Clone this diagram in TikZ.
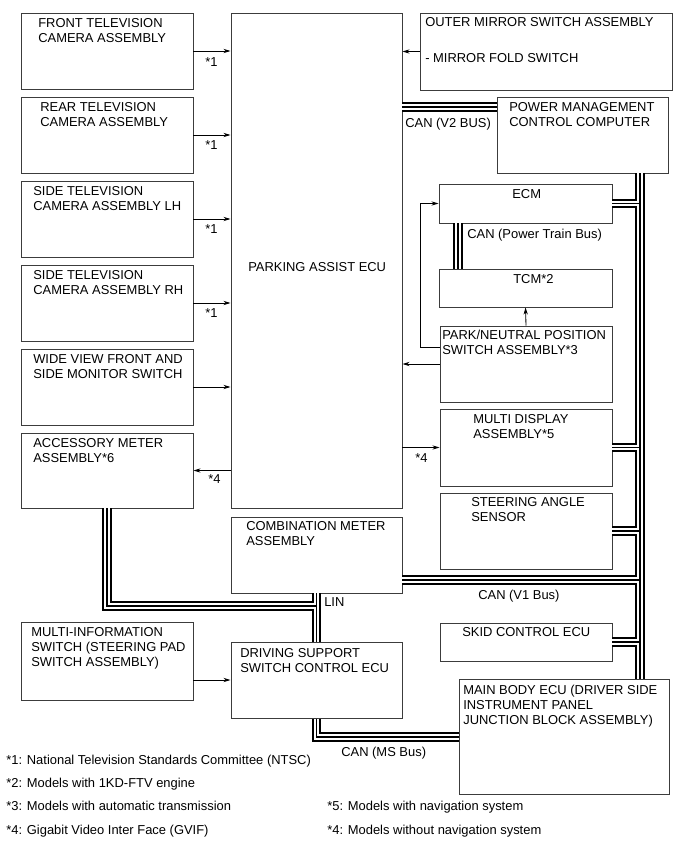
\documentclass[tikz,border=0pt]{standalone}
\usepackage{fontspec}
\setmainfont{Liberation Sans}
\usepackage{tikz}
\usetikzlibrary{arrows.meta, positioning, calc, fit}
\definecolor{boxgray}{RGB}{60,60,60}
\tikzset{
  unit/.style={draw=boxgray, line width=0.7pt, inner sep=0pt, fit={#1}},
  txt/.style={anchor=north west, inner sep=0pt, align=left,
    font=\fontsize{9.2}{10.6}\selectfont},
  arrow/.style={-{Stealth[length=5pt, width=3pt]}, line width=0.6pt}
}
\begin{document}
\begin{tikzpicture}[x=0.025cm, y=-0.025cm]
  \useasboundingbox (0,0) rectangle (691,855);

  % Left column
  \node[unit={(21,13) (193,89)}] (frontcam) {};
  \node[unit={(21,97) (193,173)}] (rearcam) {};
  \node[unit={(21,181) (193,257)}] (sidelh) {};
  \node[unit={(21,265) (193,341)}] (siderh) {};
  \node[unit={(21,349) (193,425)}] (wideview) {};
  \node[unit={(21,433) (193,508)}] (accmeter) {};
  \node[unit={(21,622) (193,700)}] (multiinfo) {};
  \node[txt] (frontcam-t) at (38,18) {FRONT TELEVISION\\CAMERA ASSEMBLY};
  \node[txt] (rearcam-t) at (40,102) {REAR TELEVISION\\CAMERA ASSEMBLY};
  \node[txt] (sidelh-t) at (33,186) {SIDE TELEVISION\\CAMERA ASSEMBLY LH};
  \node[txt] (siderh-t) at (33,270) {SIDE TELEVISION\\CAMERA ASSEMBLY RH};
  \node[txt] (wideview-t) at (33,354) {WIDE VIEW FRONT AND\\SIDE MONITOR SWITCH};
  \node[txt] (accmeter-t) at (33,438) {ACCESSORY METER\\ASSEMBLY*6};
  \node[txt] (multiinfo-t) at (31,627) {MULTI-INFORMATION\\SWITCH (STEERING PAD\\SWITCH ASSEMBLY)};

  % Middle column
  \node[unit={(231,13) (402,508)}] (parkecu) {};
  \node[unit={(231,517) (402,593)}] (combmeter) {};
  \node[unit={(231,642) (402,718)}] (drvsw) {};
  \node[txt] (parkecu-t) at (248,262) {PARKING ASSIST ECU};
  \node[txt] (combmeter-t) at (246,521) {COMBINATION METER\\ASSEMBLY};
  \node[txt] (drvsw-t) at (240,648) {DRIVING SUPPORT\\SWITCH CONTROL ECU};

  % Right column
  \node[unit={(420,13) (672,90)}] (mirror) {};
  \node[unit={(497,97) (668,173)}] (pwrmgmt) {};
  \node[unit={(439,184) (612,223)}] (ecm) {};
  \node[unit={(439,269) (612,307)}] (tcm) {};
  \node[unit={(440,326) (612,402)}] (pnsw) {};
  \node[unit={(440,409) (612,486)}] (multidisp) {};
  \node[unit={(440,493) (612,569)}] (steer) {};
  \node[unit={(440,623) (612,661)}] (skid) {};
  \node[unit={(459,679) (669,794)}] (mainbody) {};
  \node[txt] (mirror-t) at (425,17) {OUTER MIRROR SWITCH ASSEMBLY\\[15pt]- MIRROR FOLD SWITCH};
  \node[txt] (pwrmgmt-t) at (509,102) {POWER MANAGEMENT\\CONTROL COMPUTER};
  \node[txt] (ecm-t) at (512,189) {ECM};
  \node[txt] (tcm-t) at (513,274) {TCM*2};
  \node[txt] (pnsw-t) at (442,330) {PARK/NEUTRAL POSITION\\SWITCH ASSEMBLY*3};
  \node[txt] (multidisp-t) at (473,414) {MULTI DISPLAY\\ASSEMBLY*5};
  \node[txt] (steer-t) at (471,497) {STEERING ANGLE\\SENSOR};
  \node[txt] (skid-t) at (462,627) {SKID CONTROL ECU};
  \node[txt] (mainbody-t) at (463,685) {MAIN BODY ECU (DRIVER SIDE\\INSTRUMENT PANEL\\JUNCTION BLOCK ASSEMBLY)};

  % Signal arrows
  \draw[arrow] (frontcam.east) -- (frontcam.east -| parkecu.west);
  \draw[arrow] (rearcam.east) -- (rearcam.east -| parkecu.west);
  \draw[arrow] (sidelh.east) -- (sidelh.east -| parkecu.west);
  \draw[arrow] (siderh.east) -- (siderh.east -| parkecu.west);
  \draw[arrow] (wideview.east) -- (wideview.east -| parkecu.west);
  \draw[arrow] (accmeter.east -| parkecu.west) -- (accmeter.east);
  \draw[arrow] (mirror.west) -- (mirror.west -| parkecu.east);
  \draw[arrow] (pnsw.west) -- (pnsw.west -| parkecu.east);
  \draw[arrow] (multidisp.west -| parkecu.east) -- (multidisp.west);
  \draw[arrow] (pnsw.north) -- (tcm.south);
  \draw[arrow] ($(pnsw.west)+(0,-17)$) -| ($(ecm.west)+(-18,0)$) -- (ecm.west);
  \draw[arrow] (drvsw.west -| multiinfo.east) -- (drvsw.west);

  \node[txt] (n1a) at (205,57) {*1};
  \node[txt] (n1b) at (205,140) {*1};
  \node[txt] (n1c) at (205,224) {*1};
  \node[txt] (n1d) at (205,308) {*1};
  \node[txt] (n4a) at (208,474) {*4};
  \node[txt] (n4b) at (415,453) {*4};

  % Bus lines
  \coordinate (trunkx) at (640,0);
  \coordinate (v2y) at (0,107);
  \coordinate (v1y) at (0,580);
  \coordinate (ptx) at (458,0);
  \coordinate (accy) at (0,606);
  \coordinate (msy) at (0,737);
  \foreach \w/\c in {7pt/black, 4.2pt/white, 1.2pt/black}{
    \begin{scope}[line width=\w, draw=\c]
      \draw (parkecu.east |- v2y) -- (pwrmgmt.west |- v2y);
      \draw (pwrmgmt.south -| trunkx) -- (mainbody.north -| trunkx);
      \draw (ecm.east) -- (ecm.east -| trunkx);
      \draw (multidisp.east) -- (multidisp.east -| trunkx);
      \draw (steer.east) -- (steer.east -| trunkx);
      \draw (combmeter.east |- v1y) -- (trunkx |- v1y);
      \draw (skid.east) -- (skid.east -| trunkx);
      \draw (ecm.south -| ptx) -- (tcm.north -| ptx);
      \draw (combmeter.south) -- (drvsw.north);
      \draw (accmeter.south) |- (drvsw.north |- accy);
      \draw (drvsw.south) |- (mainbody.west |- msy);
    \end{scope}
  }
  \node[txt] (v2-t) at (405,118) {CAN (V2 BUS)};
  \node[txt] (pt-t) at (467,229) {CAN (Power Train Bus)};
  \node[txt] (v1-t) at (478,590) {CAN (V1 Bus)};
  \node[txt] (lin-t) at (324,597) {LIN};
  \node[txt] (ms-t) at (341,747) {CAN (MS Bus)};

  % Notes
  \node[txt] (fn1) at (6,755) {*1: National Television Standards Committee (NTSC)};
  \node[txt] (fn2) at (6,778) {*2: Models with 1KD-FTV engine};
  \node[txt] (fn3) at (6,801) {*3: Models with automatic transmission};
  \node[txt] (fn4) at (6,825) {*4: Gigabit Video Inter Face (GVIF)};
  \node[txt] (fn5) at (327,801) {*5: Models with navigation system};
  \node[txt] (fn6) at (327,825) {*4: Models without navigation system};
\end{tikzpicture}
\end{document}
